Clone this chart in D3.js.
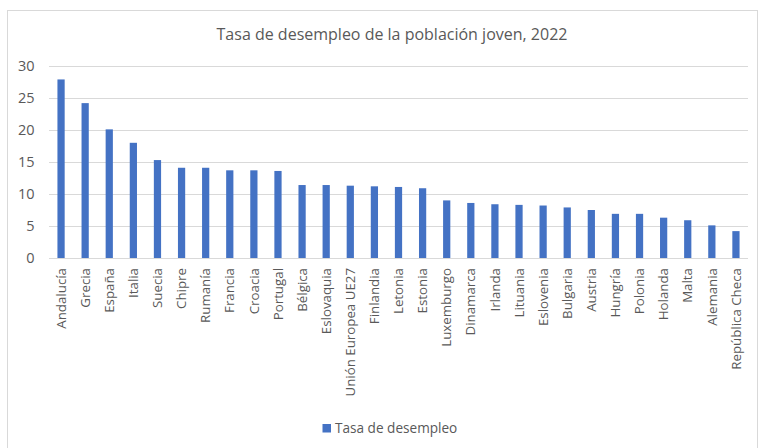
<!DOCTYPE html>
<html><head><meta charset="utf-8">
<script src="https://cdn.jsdelivr.net/npm/d3@7"></script>
<style>body{margin:0;background:#fff;}svg{display:block;font-family:"Open Sans",sans-serif;}</style>
</head><body><svg id="c" width="758" height="448"></svg>
<script>
const categories = ["Andalucía","Grecia","España","Italia","Suecia","Chipre","Rumanía","Francia","Croacia","Portugal","Bélgica","Eslovaquia","Unión Europea UE27","Finlandia","Letonia","Estonia","Luxemburgo","Dinamarca","Irlanda","Lituania","Eslovenia","Bulgaria","Austria","Hungría","Polonia","Holanda","Malta","Alemania","República Checa"];
const values = [27.9,24.2,20.1,18.0,15.3,14.1,14.1,13.7,13.7,13.6,11.4,11.4,11.3,11.2,11.1,10.9,9.0,8.6,8.4,8.3,8.2,7.9,7.5,6.9,6.9,6.3,5.9,5.1,4.2];
const yTicks = [0,5,10,15,20,25,30];
const title = "Tasa de desempleo de la población joven, 2022";
const seriesName = "Tasa de desempleo";

const svg = d3.select("#c");
const m = {left:49, right:10};
const W = 758, H = 448;
svg.append("rect").attr("x",7.5).attr("y",10.5).attr("width",W-8).attr("height",H).attr("fill","none").attr("stroke","#d9d9d9");

const x = d3.scaleBand().domain(categories).range([m.left, W-m.right]).paddingInner(0.7).paddingOuter(0.35);
const y = d3.scaleLinear().domain([0,30]).range([258,66]);

svg.append("g").selectAll("line").data(yTicks).join("line")
  .attr("x1",m.left).attr("x2",W-m.right).attr("y1",d=>Math.round(y(d))+0.5).attr("y2",d=>Math.round(y(d))+0.5)
  .attr("stroke","#d9d9d9").attr("stroke-width",1);

svg.append("g").selectAll("text").data(yTicks).join("text")
  .attr("x",34.5).attr("y",d=>y(d)).attr("dy","0.35em").attr("text-anchor","end")
  .attr("font-size",14.5).attr("fill","#595959").text(d=>d);

svg.append("g").selectAll("rect").data(values).join("rect")
  .attr("x",(d,i)=>x(categories[i])).attr("width",x.bandwidth())
  .attr("y",d=>y(d)).attr("height",d=>y(0)-y(d)).attr("fill","#4472c4");

svg.append("g").selectAll("text").data(categories).join("text")
  .attr("transform",d=>`translate(${x(d)+x.bandwidth()/2},268) rotate(-90)`)
  .attr("dy","0.35em").attr("text-anchor","end").attr("font-size",13.3).attr("fill","#595959").text(d=>d);

svg.append("text").attr("x",392).attr("y",39.5).attr("text-anchor","middle").attr("font-size",16).attr("fill","#595959").text(title);

svg.append("rect").attr("x",322.5).attr("y",424).attr("width",8.5).attr("height",8.5).attr("fill","#4472c4");
svg.append("text").attr("x",335).attr("y",432.5).attr("font-size",13.6).attr("fill","#595959").text(seriesName);
</script></body></html>
